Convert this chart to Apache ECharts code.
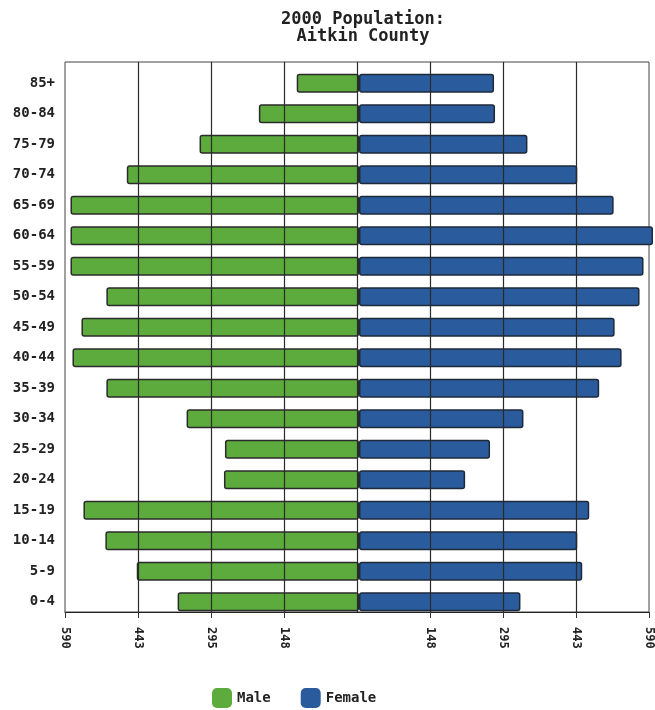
<!DOCTYPE html>
<html>
<head>
<meta charset="utf-8">
<script src="https://cdn.jsdelivr.net/npm/echarts@6/dist/echarts.min.js"></script>
<style>html,body{margin:0;padding:0;background:#fff}#c{width:655px;height:710px}</style>
</head>
<body>
<div id="c"></div>
<script>
const categories = ['85+','80-84','75-79','70-74','65-69','60-64','55-59','50-54','45-49','40-44','35-39','30-34','25-29','20-24','15-19','10-14','5-9','0-4'];
const male =   [125, 201, 320, 466, 579, 579, 579, 507, 557, 575, 507, 346, 269, 271, 553, 509, 446, 364];
const female = [271, 273, 338, 438, 511, 590, 571, 563, 513, 527, 482, 330, 263, 213, 462, 438, 448, 324];
const tickValues = [-590, -442.5, -295, -147.5, 147.5, 295, 442.5, 590];
const gridValues = [-442.5, -295, -147.5, 0, 147.5, 295, 442.5];

const FONT = '"DejaVu Sans Mono", monospace';
const chart = echarts.init(document.getElementById('c'));
chart.setOption({
  animation: false,
  backgroundColor: '#fff',
  title: {
    text: '2000 Population:\nAitkin County',
    left: 358, top: 6, textAlign: 'center',
    textStyle: {fontFamily: FONT, fontWeight: 'bold', fontSize: 17, lineHeight: 17, color: '#222'}
  },
  legend: {
    left: 207, top: 683,
    icon: 'roundRect', itemWidth: 20, itemHeight: 20, itemGap: 30,
    itemStyle: {borderWidth: 0},
    textStyle: {fontFamily: FONT, fontWeight: 'bold', fontSize: 14, color: '#222'},
    data: ['Male', 'Female']
  },
  grid: [
    {left: 65, width: 588, top: 68, height: 549, containLabel: false},
    {left: 65, width: 588, top: 62, height: 550, show: true, borderColor: '#444', borderWidth: 1, backgroundColor: 'transparent', z: 0}
  ],
  xAxis: [
    {gridIndex: 0, type: 'value', min: -590, max: 590, show: false},
    {gridIndex: 1, type: 'value', min: -590, max: 590, interval: 147.5,
     axisLine: {show: true, onZero: false, lineStyle: {color: '#222', width: 1.2}},
     axisTick: {show: true, length: 6, customValues: tickValues, lineStyle: {color: '#333'}},
     splitLine: {show: false},
     axisLabel: {rotate: -90, margin: 15, fontFamily: FONT, fontWeight: 'bold', fontSize: 12, color: '#222',
       customValues: tickValues,
       formatter: v => v === 0 ? '' : String(Math.round(Math.abs(v)))}
    }
  ],
  yAxis: [
    {gridIndex: 0, type: 'category', data: categories, inverse: true,
     axisLine: {show: false}, axisTick: {show: false}, splitLine: {show: false},
     axisLabel: {margin: 10, fontFamily: FONT, fontWeight: 'bold', fontSize: 14, color: '#222'}},
    {gridIndex: 1, type: 'value', show: false, min: 0, max: 1}
  ],
  series: [
    {name: 'Male', type: 'bar', xAxisIndex: 0, yAxisIndex: 0, stack: 'pop', barWidth: 19, z: 1,
     data: male.map(v => -v),
     itemStyle: {color: '#5dab3c', borderColor: '#2b2b2b', borderWidth: 1.5, borderRadius: 2}},
    {name: 'Female', type: 'bar', xAxisIndex: 0, yAxisIndex: 0, stack: 'pop', barWidth: 19, z: 1,
     data: female,
     itemStyle: {color: '#2a5b9c', borderColor: '#1e2a3a', borderWidth: 1.5, borderRadius: 2}},
    {name: 'gridlines', type: 'custom', xAxisIndex: 1, yAxisIndex: 1, zlevel: 2, z: 50, silent: true, clip: false,
     data: gridValues.map(v => [v]),
     encode: {x: 0},
     renderItem: function (params, api) {
       const x = api.coord([api.value(0), 0])[0];
       const yTop = api.coord([api.value(0), 1])[1];
       const yBot = api.coord([api.value(0), 0])[1];
       return {type: 'line',
         shape: {x1: Math.round(x) + 0.5, y1: yTop, x2: Math.round(x) + 0.5, y2: yBot},
         style: {stroke: '#2a2a2a', lineWidth: 1.2}};
     }}
  ]
});
</script>
</body>
</html>
